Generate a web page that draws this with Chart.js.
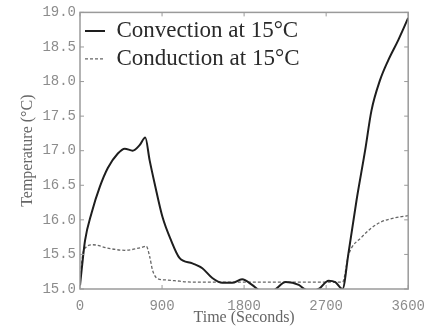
<!DOCTYPE html>
<html>
<head>
<meta charset="utf-8">
<script src="https://cdn.jsdelivr.net/npm/chart.js@4"></script>
<style>
  html, body { margin: 0; padding: 0; background: #fff; }
  canvas { display: block; }
</style>
</head>
<body>
<canvas id="tempChart" width="434" height="327"></canvas>
<script>
// values
const convTime = [0, 20, 55, 127, 218, 305, 415, 491, 578, 654, 716, 764, 818, 905, 1000, 1091, 1233, 1342, 1451, 1560, 1669, 1778, 1887, 1964, 2040, 2127, 2258, 2400, 2476, 2560, 2618, 2727, 2800, 2880, 2945, 3033, 3127, 3197, 3291, 3382, 3491, 3600];
const convTemp = [15.05, 15.3, 15.7, 16.1, 16.48, 16.75, 16.96, 17.03, 17.0, 17.08, 17.19, 16.86, 16.53, 16.04, 15.7, 15.45, 15.37, 15.3, 15.16, 15.09, 15.09, 15.14, 15.06, 14.98, 14.93, 14.98, 15.1, 15.06, 14.99, 14.98, 15.0, 15.12, 15.1, 15.0, 15.52, 16.28, 17.0, 17.58, 18.02, 18.31, 18.6, 18.92];
const condTime = [0, 30, 55, 142, 305, 491, 673, 727, 764, 796, 851, 950, 1036, 1233, 1500, 1800, 2100, 2400, 2700, 2880, 2945, 3090, 3273, 3455, 3600];
const condTemp = [15.15, 15.5, 15.59, 15.64, 15.59, 15.56, 15.6, 15.62, 15.47, 15.27, 15.15, 15.13, 15.12, 15.1, 15.1, 15.1, 15.1, 15.1, 15.1, 15.1, 15.49, 15.75, 15.95, 16.03, 16.06];
const seriesNames = ["Convection at 15\u00b0C", "Conduction at 15\u00b0C"];
const xTicks = [0, 900, 1800, 2700, 3600];
const yTicks = [15.0, 15.5, 16.0, 16.5, 17.0, 17.5, 18.0, 18.5, 19.0];

const toPoints = (xs, ys) => xs.map((x, i) => ({x: x, y: ys[i]}));

// box around the plot with short inward ticks on all four sides
const frame = {
    id: "frame",
    afterDraw(chart) {
        const {ctx, chartArea: a, scales} = chart;
        ctx.save();
        ctx.strokeStyle = "#9a9a9a";
        ctx.lineWidth = 1.5;
        ctx.strokeRect(a.left, a.top, a.right - a.left, a.bottom - a.top);
        ctx.lineWidth = 1;
        ctx.beginPath();
        xTicks.forEach(v => {
            const px = scales.x.getPixelForValue(v);
            ctx.moveTo(px, a.bottom); ctx.lineTo(px, a.bottom - 4);
            ctx.moveTo(px, a.top); ctx.lineTo(px, a.top + 4);
        });
        yTicks.forEach(v => {
            const py = scales.y.getPixelForValue(v);
            ctx.moveTo(a.left, py); ctx.lineTo(a.left + 4, py);
            ctx.moveTo(a.right, py); ctx.lineTo(a.right - 4, py);
        });
        ctx.stroke();
        ctx.restore();
    }
};

const ctx = document.getElementById("tempChart").getContext("2d");
new Chart(ctx, {
    type: "line",
    data: {
        datasets: [{
            label: seriesNames[0],
            data: toPoints(convTime, convTemp),
            borderColor: "#1e1e1e",
            borderWidth: 2,
            pointRadius: 0,
            cubicInterpolationMode: "monotone",
            fill: false
        }, {
            label: seriesNames[1],
            data: toPoints(condTime, condTemp),
            borderColor: "#666",
            borderWidth: 1.3,
            borderDash: [3, 2],
            pointRadius: 0,
            cubicInterpolationMode: "monotone",
            fill: false
        }]
    },
    options: {
        responsive: false,
        animation: false,
        devicePixelRatio: 1,
        layout: {padding: {top: 12, right: 24, left: 0, bottom: 0}},
        plugins: {
            tooltip: {enabled: false},
            legend: {
                position: "chartArea",
                align: "start",
                title: {display: true, text: " ", padding: 6, font: {size: 2}},
                labels: {
                    usePointStyle: true,
                    pointStyle: "line",
                    pointStyleWidth: 20,
                    padding: 5,
                    color: "#2a2a2a",
                    font: {family: "'Liberation Serif', serif", size: 23},
                    generateLabels: chart => {
                        const items = Chart.defaults.plugins.legend.labels.generateLabels(chart);
                        items.forEach(it => {
                            const ds = chart.data.datasets[it.datasetIndex];
                            it.lineDash = ds.borderDash || [];
                            it.lineWidth = ds.borderWidth;
                            it.strokeStyle = ds.borderColor;
                        });
                        return items;
                    }
                }
            }
        },
        scales: {
            x: {
                type: "linear",
                min: 0, max: 3600,
                afterFit: s => { s.height = 38; },
                afterBuildTicks: s => { s.ticks = xTicks.map(v => ({value: v})); },
                grid: {display: false, drawTicks: false},
                border: {display: false},
                ticks: {
                    padding: 9,
                    color: "#8c8c8c",
                    font: {family: "'Liberation Mono', monospace", size: 14},
                    callback: v => String(v)
                },
                title: {
                    display: true,
                    text: "Time (Seconds)",
                    color: "#666",
                    padding: {top: 0, bottom: 0},
                    font: {family: "'Liberation Serif', serif", size: 16}
                }
            },
            y: {
                min: 15, max: 19,
                afterFit: s => { s.width = 80; },
                afterBuildTicks: s => { s.ticks = yTicks.map(v => ({value: v})); },
                grid: {display: false, drawTicks: false},
                border: {display: false},
                ticks: {
                    padding: 4,
                    color: "#8c8c8c",
                    font: {family: "'Liberation Mono', monospace", size: 14},
                    callback: v => v.toFixed(1)
                },
                title: {
                    display: true,
                    text: "Temperature (\u00b0C)",
                    color: "#666",
                    padding: {top: 18, bottom: 0},
                    font: {family: "'Liberation Serif', serif", size: 16}
                }
            }
        }
    },
    plugins: [frame]
});
</script>
</body>
</html>
